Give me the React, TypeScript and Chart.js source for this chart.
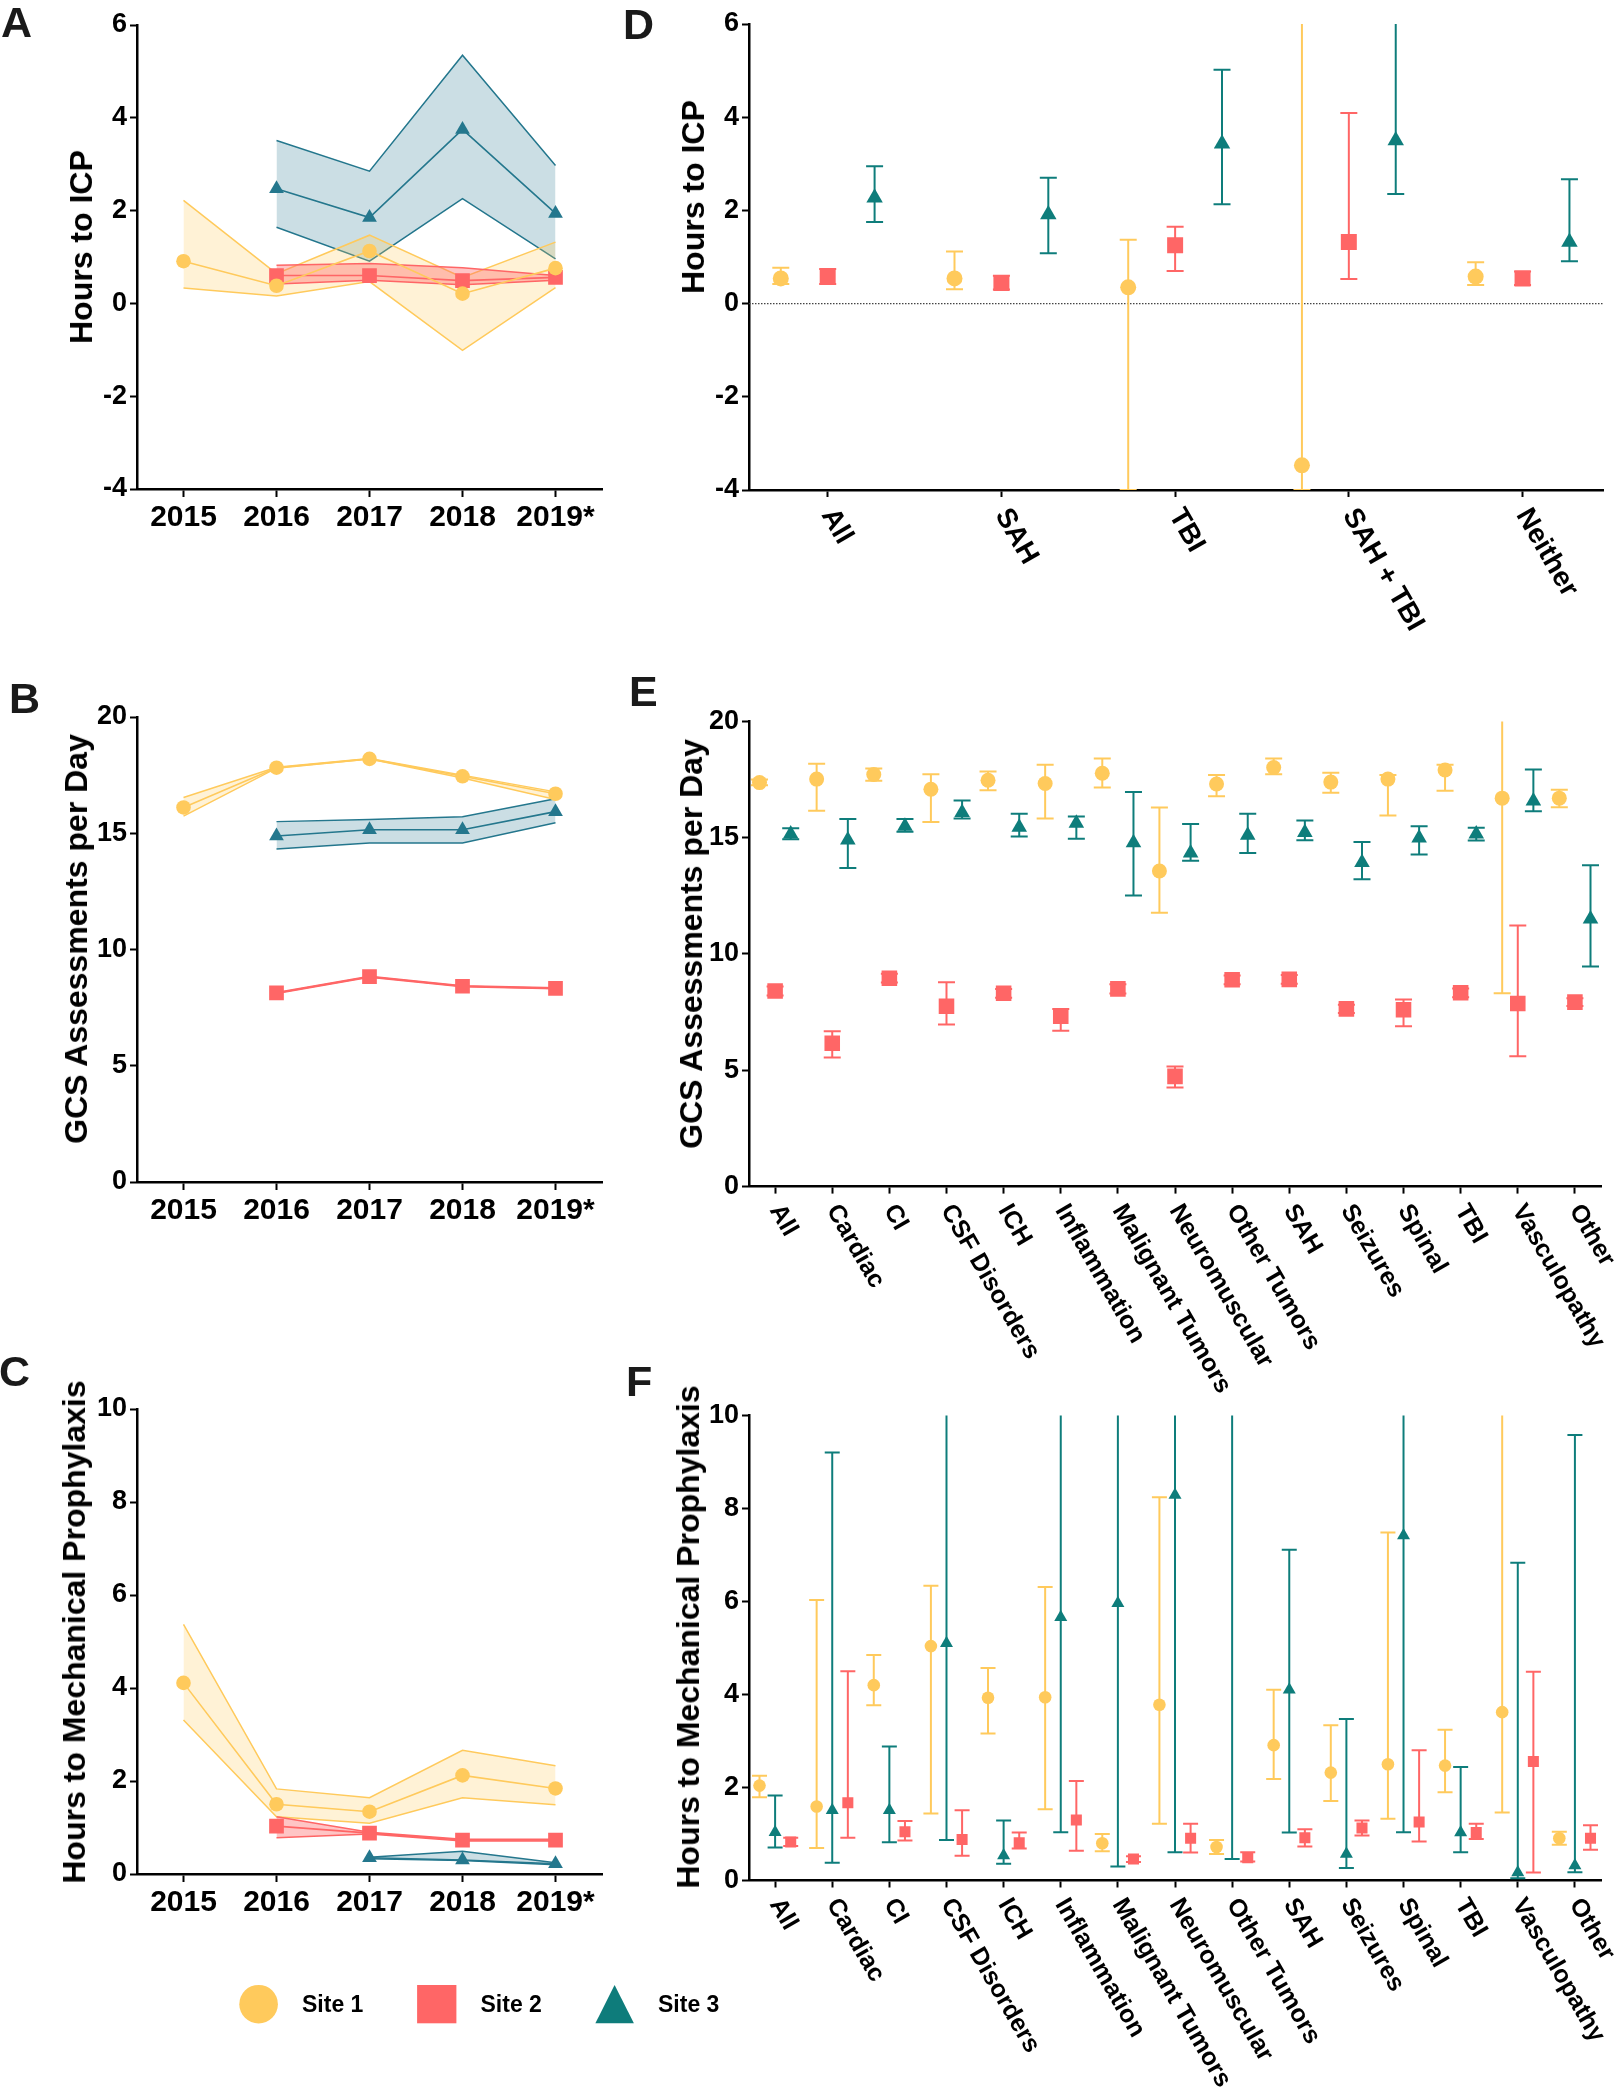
import React, { useEffect, useRef } from 'react';
import { Chart, registerables } from 'chart.js';

Chart.register(...registerables);

const FONT = '"Liberation Sans", Arial, Helvetica, sans-serif';
Chart.defaults.font.family = FONT;

// ---------- Panels A-C (by year) ----------
const years = ['2015', '2016', '2017', '2018', '2019*'];

// A: Hours to ICP
const icpYearSite1 = [0.91, 0.38, 1.13, 0.21, 0.76];
const icpYearSite1Hi = [2.22, 0.64, 1.47, 0.56, 1.32];
const icpYearSite1Lo = [0.33, 0.16, 0.47, -1.01, 0.34];
const icpYearSite2 = [null, 0.6, 0.6, 0.49, 0.56];
const icpYearSite2Hi = [null, 0.82, 0.86, 0.77, 0.6];
const icpYearSite2Lo = [null, 0.42, 0.5, 0.4, 0.5];
const icpYearSite3 = [null, 2.47, 1.85, 3.75, 1.94];
const icpYearSite3Hi = [null, 3.51, 2.85, 5.35, 2.97];
const icpYearSite3Lo = [null, 1.64, 0.91, 2.26, 0.96];

// B: GCS assessments per day
const gcsYearSite1 = [16.11, 17.82, 18.2, 17.45, 16.7];
const gcsYearSite1Hi = [16.54, 17.84, 18.21, 17.5, 16.78];
const gcsYearSite1Lo = [15.74, 17.8, 18.19, 17.38, 16.45];
const gcsYearSite2 = [null, 8.13, 8.83, 8.42, 8.33];
const gcsYearSite2Hi = [null, 8.15, 8.85, 8.44, 8.35];
const gcsYearSite2Lo = [null, 8.11, 8.81, 8.4, 8.31];
const gcsYearSite3 = [null, 14.88, 15.15, 15.15, 15.93];
const gcsYearSite3Hi = [null, 15.5, 15.59, 15.71, 16.48];
const gcsYearSite3Lo = [null, 14.32, 14.58, 14.58, 15.45];

// C: Hours to mechanical prophylaxis
const mpYearSite1 = [4.11, 1.5, 1.34, 2.12, 1.84];
const mpYearSite1Hi = [5.37, 1.83, 1.64, 2.66, 2.33];
const mpYearSite1Lo = [3.31, 1.23, 1.09, 1.64, 1.49];
const mpYearSite2 = [null, 1.03, 0.88, 0.73, 0.73];
const mpYearSite2Hi = [null, 1.23, 0.9, 0.75, 0.75];
const mpYearSite2Lo = [null, 0.78, 0.86, 0.71, 0.71];
const mpYearSite3 = [null, null, 0.35, 0.3, 0.22];
const mpYearSite3Hi = [null, null, 0.36, 0.49, 0.24];
const mpYearSite3Lo = [null, null, 0.33, 0.29, 0.2];

// ---------- Panel D (by diagnosis group) ----------
const icpCats = ['All', 'SAH', 'TBI', 'SAH + TBI', 'Neither'];
const icpCatSite1 = [0.54, 0.54, 0.35, -3.47, 0.58];
const icpCatSite1Hi = [0.77, 1.12, 1.37, 8, 0.89];
const icpCatSite1Lo = [0.42, 0.31, -4, -4, 0.4];
const icpCatSite2 = [0.58, 0.44, 1.25, 1.32, 0.54];
const icpCatSite2Hi = [0.74, 0.6, 1.65, 4.09, 0.69];
const icpCatSite2Lo = [0.42, 0.3, 0.7, 0.53, 0.4];
const icpCatSite3 = [2.27, 1.91, 3.43, 3.5, 1.32];
const icpCatSite3Hi = [2.95, 2.7, 5.02, 7, 2.67];
const icpCatSite3Lo = [1.75, 1.08, 2.13, 2.35, 0.91];

// ---------- Panels E & F (by diagnosis) ----------
const dxCats = ['All', 'Cardiac', 'CI', 'CSF Disorders', 'ICH', 'Inflammation', 'Malignant Tumors', 'Neuromuscular', 'Other Tumors', 'SAH', 'Seizures', 'Spinal', 'TBI', 'Vasculopathy', 'Other'];

const gcsDxSite1 = [17.37, 17.52, 17.72, 17.08, 17.47, 17.33, 17.77, 13.57, 17.31, 18.02, 17.39, 17.52, 17.91, 16.7, 16.7];
const gcsDxSite1Hi = [17.5, 18.18, 17.98, 17.73, 17.85, 18.14, 18.41, 16.3, 17.7, 18.41, 17.79, 17.7, 18.14, 21, 17.06];
const gcsDxSite1Lo = [17.25, 16.16, 17.45, 15.68, 17.04, 15.83, 17.16, 11.77, 16.78, 17.73, 16.93, 15.95, 17.02, 8.31, 16.31];
const gcsDxSite2 = [8.41, 6.16, 8.96, 7.75, 8.31, 7.33, 8.5, 4.74, 8.89, 8.91, 7.64, 7.6, 8.33, 7.87, 7.93];
const gcsDxSite2Hi = [8.6, 6.68, 9.15, 8.79, 8.5, 7.64, 8.7, 5.16, 9.08, 9.1, 7.82, 8.04, 8.52, 11.23, 8.1];
const gcsDxSite2Lo = [8.22, 5.55, 8.77, 6.97, 8.12, 6.7, 8.3, 4.26, 8.7, 8.72, 7.46, 6.89, 8.14, 5.6, 7.76];
const gcsDxSite3 = [15.16, 14.9, 15.49, 16.08, 15.45, 15.62, 14.78, 14.34, 15.11, 15.22, 13.93, 14.99, 15.16, 16.58, 11.5];
const gcsDxSite3Hi = [15.41, 15.8, 15.8, 16.6, 16.03, 15.91, 16.97, 15.59, 16.03, 15.74, 14.82, 15.49, 15.43, 17.93, 13.82];
const gcsDxSite3Lo = [14.93, 13.7, 15.26, 15.83, 15.05, 14.95, 12.51, 14.01, 14.34, 14.89, 13.21, 14.28, 14.88, 16.14, 9.46];

const mpDxSite1 = [2.04, 1.59, 4.2, 5.04, 3.93, 3.94, 0.8, 3.78, 0.72, 2.91, 2.32, 2.5, 2.47, 3.62, 0.91];
const mpDxSite1Hi = [2.25, 6.03, 4.85, 6.34, 4.57, 6.31, 1.0, 8.24, 0.87, 4.1, 3.34, 7.48, 3.24, 11, 1.05];
const mpDxSite1Lo = [1.79, 0.7, 3.77, 1.44, 3.16, 1.53, 0.63, 1.22, 0.57, 2.18, 1.71, 1.33, 1.9, 1.46, 0.77];
const mpDxSite2 = [0.83, 1.67, 1.05, 0.88, 0.81, 1.3, 0.46, 0.91, 0.49, 0.92, 1.13, 1.26, 1.03, 2.56, 0.91];
const mpDxSite2Hi = [0.92, 4.5, 1.28, 1.51, 1.03, 2.14, 0.52, 1.22, 0.61, 1.1, 1.29, 2.8, 1.22, 4.49, 1.19];
const mpDxSite2Lo = [0.74, 0.92, 0.86, 0.53, 0.69, 0.64, 0.4, 0.6, 0.41, 0.73, 0.97, 0.84, 0.89, 0.17, 0.66];
const mpDxSite3 = [1.04, 1.51, 1.51, 5.1, 0.54, 5.66, 5.96, 8.29, 11, 4.1, 0.57, 7.42, 1.03, 0.17, 0.32];
const mpDxSite3Hi = [1.83, 9.2, 2.88, 11, 1.29, 11, 11, 11, 20, 7.11, 3.47, 11, 2.44, 6.83, 9.58];
const mpDxSite3Lo = [0.71, 0.38, 0.82, 0.87, 0.36, 1.04, 0.3, 0.61, 0.46, 1.03, 0.27, 1.04, 0.61, 0.05, 0.18];

const siteNames = ['Site 1', 'Site 2', 'Site 3'];

// ---------- styles ----------
const YELLOW = '#FFCA5C';
const RED = '#FF6666';
const TEAL_L = '#24778D';
const TEAL_R = '#0E7D7B';
const YELLOW_FILL = 'rgba(255, 202, 92, 0.25)';
const RED_FILL = 'rgba(255, 102, 102, 0.38)';
const TEAL_FILL = 'rgba(36, 119, 141, 0.24)';

type Rect = { x: number; y: number; w: number; h: number };
type Area = { l: number; t: number; r: number; b: number };

function layoutFor(rect: Rect, area: Area, xH: number) {
  return {
    yW: area.l - rect.x,
    padding: {
      left: 0,
      top: area.t - rect.y,
      right: rect.x + rect.w - area.r,
      bottom: rect.y + rect.h - area.b - xH,
    },
  };
}

const axisLook = (tickLen: number) => ({
  grid: { display: true, drawOnChartArea: false, drawTicks: true, tickLength: tickLen, tickWidth: 2, tickColor: '#000', offset: false },
  border: { display: true, color: '#000', width: 2.5 },
});

type TrendSeries = {
  name: string; mean: (number | null)[]; hi: (number | null)[]; lo: (number | null)[];
  color: string; fill: string; style: string; radius: number; order: number; bandOrder: number;
};

function trendConfig(series: TrendSeries[], yMin: number, yMax: number, step: number, rect: Rect, area: Area) {
  const xH = 45;
  const L = layoutFor(rect, area, xH);
  const datasets: any[] = [];
  series.forEach((s) => {
    datasets.push({ label: s.name + ' upper', data: s.hi, borderColor: s.color, borderWidth: 1.5, backgroundColor: s.fill, fill: '+1', pointRadius: 0, pointHoverRadius: 0, order: s.bandOrder });
    datasets.push({ label: s.name + ' lower', data: s.lo, borderColor: s.color, borderWidth: 1.5, fill: false, pointRadius: 0, pointHoverRadius: 0, order: s.bandOrder });
    datasets.push({ label: s.name, data: s.mean, borderColor: s.color, borderWidth: 1.6, fill: false, pointStyle: s.style, pointRadius: s.radius, pointBackgroundColor: s.color, pointBorderColor: s.color, pointBorderWidth: 0, order: s.order });
  });
  return {
    type: 'line',
    data: { labels: years, datasets },
    options: {
      animation: false, responsive: false, devicePixelRatio: 1, events: [],
      layout: { padding: L.padding },
      plugins: { legend: { display: false }, tooltip: { enabled: false } },
      scales: {
        x: {
          type: 'category', offset: true, ...axisLook(8),
          ticks: { font: { size: 30, weight: 'bold' }, color: '#000', padding: 3, maxRotation: 0, minRotation: 0, autoSkip: false },
          afterFit: (s: any) => { s.height = xH; },
        },
        y: {
          type: 'linear', min: yMin, max: yMax, ...axisLook(7),
          ticks: { stepSize: step, font: { size: 27, weight: 'bold' }, color: '#000', padding: 3 },
          afterFit: (s: any) => { s.width = L.yW; },
        },
      },
    },
  };
}

function rotatedLabels(labels: string[], size: number, offset: number) {
  return {
    id: 'rotatedLabels',
    afterDraw(chart: any) {
      const xs = chart.scales.x;
      const ctx = chart.ctx;
      ctx.save();
      ctx.font = `bold ${size}px ${FONT}`;
      ctx.fillStyle = '#000';
      ctx.textAlign = 'left';
      ctx.textBaseline = 'middle';
      labels.forEach((t, i) => {
        ctx.save();
        ctx.translate(xs.getPixelForValue(i), xs.top + offset);
        ctx.rotate(Math.PI / 3);
        ctx.fillText(t, 0, 0);
        ctx.restore();
      });
      ctx.restore();
    },
  };
}

type ErrSeries = {
  name: string; mean: number[]; hi: number[]; lo: number[]; off: number;
  color: string; style: string; radius: number; order: number;
};

function errorConfig(o: {
  cats: string[]; xMin: number; xMax: number; yMin: number; yMax: number; step: number;
  series: ErrSeries[]; capR: number; labelSize: number; labelOffset: number;
  rect: Rect; area: Area; zeroLine?: boolean;
}) {
  const xH = 200;
  const L = layoutFor(o.rect, o.area, xH);
  const datasets: any[] = [];
  if (o.zeroLine) {
    datasets.push({ label: 'zero', data: [{ x: o.xMin, y: 0 }, { x: o.xMax, y: 0 }], borderColor: '#444', borderWidth: 1.3, borderDash: [1.5, 1.5], pointRadius: 0, pointHoverRadius: 0, fill: false, order: 50 });
  }
  o.series.forEach((s, k) => {
    const pts: any[] = [];
    s.lo.forEach((lo, i) => {
      pts.push({ x: i + s.off, y: lo }, { x: i + s.off, y: s.hi[i] }, { x: i + s.off, y: null });
    });
    datasets.push({ label: s.name + ' range', data: pts, borderColor: s.color, borderWidth: 2, fill: false, spanGaps: false, pointStyle: 'line', pointRadius: o.capR, pointHoverRadius: o.capR, pointBorderColor: s.color, pointBackgroundColor: s.color, pointBorderWidth: 2, order: 20 + k });
    datasets.push({ label: s.name, data: s.mean.map((m, i) => ({ x: i + s.off, y: m })), showLine: false, fill: false, pointStyle: s.style, pointRadius: s.radius, pointHoverRadius: s.radius, pointBackgroundColor: s.color, pointBorderColor: s.color, pointBorderWidth: 0, order: s.order });
  });
  return {
    type: 'line',
    data: { datasets },
    plugins: [rotatedLabels(o.cats, o.labelSize, o.labelOffset)],
    options: {
      animation: false, responsive: false, devicePixelRatio: 1, events: [],
      layout: { padding: L.padding },
      plugins: { legend: { display: false }, tooltip: { enabled: false } },
      scales: {
        x: {
          type: 'linear', min: o.xMin, max: o.xMax, ...axisLook(7),
          ticks: { display: false, stepSize: 1, includeBounds: false },
          afterBuildTicks: (s: any) => { s.ticks = o.cats.map((_, i) => ({ value: i })); },
          afterFit: (s: any) => { s.height = xH; },
        },
        y: {
          type: 'linear', min: o.yMin, max: o.yMax, ...axisLook(7),
          ticks: { stepSize: o.step, font: { size: 27, weight: 'bold' }, color: '#000', padding: 3 },
          afterFit: (s: any) => { s.width = L.yW; },
        },
      },
    },
  };
}

// ---------- panel geometry (page pixels) ----------
const rectA: Rect = { x: 0, y: 0, w: 620, h: 560 };
const areaA: Area = { l: 137, t: 25, r: 602, b: 489 };
const rectB: Rect = { x: 0, y: 640, w: 620, h: 600 };
const areaB: Area = { l: 137, t: 717, r: 602, b: 1182 };
const rectC: Rect = { x: 0, y: 1330, w: 620, h: 600 };
const areaC: Area = { l: 137, t: 1409, r: 602, b: 1874 };
const rectD: Rect = { x: 620, y: 0, w: 996, h: 680 };
const areaD: Area = { l: 749, t: 24, r: 1603.5, b: 490 };
const rectE: Rect = { x: 620, y: 680, w: 996, h: 740 };
const areaE: Area = { l: 749, t: 721.4, r: 1601.7, b: 1186.6 };
const rectF: Rect = { x: 620, y: 1380, w: 996, h: 720 };
const areaF: Area = { l: 749, t: 1415.4, r: 1601.7, b: 1880.5 };

const trendSeries = (m1: any[], h1: any[], l1: any[], m2: any[], h2: any[], l2: any[], m3: any[], h3: any[], l3: any[]): TrendSeries[] => [
  { name: siteNames[2], mean: m3, hi: h3, lo: l3, color: TEAL_L, fill: TEAL_FILL, style: 'triangle', radius: 8.5, order: 3, bandOrder: 30 },
  { name: siteNames[0], mean: m1, hi: h1, lo: l1, color: YELLOW, fill: YELLOW_FILL, style: 'circle', radius: 7.3, order: 1, bandOrder: 20 },
  { name: siteNames[1], mean: m2, hi: h2, lo: l2, color: RED, fill: RED_FILL, style: 'rect', radius: 10.4, order: 2, bandOrder: 10 },
];

const configA = () => trendConfig(trendSeries(icpYearSite1, icpYearSite1Hi, icpYearSite1Lo, icpYearSite2, icpYearSite2Hi, icpYearSite2Lo, icpYearSite3, icpYearSite3Hi, icpYearSite3Lo), -4, 6, 2, rectA, areaA);
const configB = () => trendConfig(trendSeries(gcsYearSite1, gcsYearSite1Hi, gcsYearSite1Lo, gcsYearSite2, gcsYearSite2Hi, gcsYearSite2Lo, gcsYearSite3, gcsYearSite3Hi, gcsYearSite3Lo), 0, 20, 5, rectB, areaB);
const configC = () => trendConfig(trendSeries(mpYearSite1, mpYearSite1Hi, mpYearSite1Lo, mpYearSite2, mpYearSite2Hi, mpYearSite2Lo, mpYearSite3, mpYearSite3Hi, mpYearSite3Lo), 0, 10, 2, rectC, areaC);

const configD = () => errorConfig({
  cats: icpCats, xMin: -0.453, xMax: 4.466, yMin: -4, yMax: 6, step: 2, capR: 8.5, labelSize: 28, labelOffset: 21,
  rect: rectD, area: areaD, zeroLine: true,
  series: [
    { name: siteNames[0], mean: icpCatSite1, hi: icpCatSite1Hi, lo: icpCatSite1Lo, off: -0.27, color: YELLOW, style: 'circle', radius: 8, order: 1 },
    { name: siteNames[1], mean: icpCatSite2, hi: icpCatSite2Hi, lo: icpCatSite2Lo, off: 0, color: RED, style: 'rect', radius: 11.3, order: 2 },
    { name: siteNames[2], mean: icpCatSite3, hi: icpCatSite3Hi, lo: icpCatSite3Lo, off: 0.27, color: TEAL_R, style: 'triangle', radius: 9.5, order: 3 },
  ],
});

const configE = () => errorConfig({
  cats: dxCats, xMin: -0.457, xMax: 14.469, yMin: 0, yMax: 20, step: 5, capR: 8.5, labelSize: 25, labelOffset: 20,
  rect: rectE, area: areaE,
  series: [
    { name: siteNames[0], mean: gcsDxSite1, hi: gcsDxSite1Hi, lo: gcsDxSite1Lo, off: -0.273, color: YELLOW, style: 'circle', radius: 7.5, order: 1 },
    { name: siteNames[1], mean: gcsDxSite2, hi: gcsDxSite2Hi, lo: gcsDxSite2Lo, off: 0, color: RED, style: 'rect', radius: 11, order: 2 },
    { name: siteNames[2], mean: gcsDxSite3, hi: gcsDxSite3Hi, lo: gcsDxSite3Lo, off: 0.273, color: TEAL_R, style: 'triangle', radius: 9, order: 3 },
  ],
});

const configF = () => errorConfig({
  cats: dxCats, xMin: -0.457, xMax: 14.469, yMin: 0, yMax: 10, step: 2, capR: 7.5, labelSize: 25, labelOffset: 20,
  rect: rectF, area: areaF,
  series: [
    { name: siteNames[0], mean: mpDxSite1, hi: mpDxSite1Hi, lo: mpDxSite1Lo, off: -0.273, color: YELLOW, style: 'circle', radius: 6.3, order: 1 },
    { name: siteNames[2], mean: mpDxSite3, hi: mpDxSite3Hi, lo: mpDxSite3Lo, off: 0, color: TEAL_R, style: 'triangle', radius: 7.5, order: 3 },
    { name: siteNames[1], mean: mpDxSite2, hi: mpDxSite2Hi, lo: mpDxSite2Lo, off: 0.273, color: RED, style: 'rect', radius: 7.8, order: 2 },
  ],
});

function ChartCanvas({ rect, config }: { rect: Rect; config: () => any }) {
  const ref = useRef<HTMLCanvasElement>(null);
  useEffect(() => {
    const chart = new Chart(ref.current as HTMLCanvasElement, config());
    return () => chart.destroy();
  }, []);
  return (
    <canvas
      ref={ref}
      width={rect.w}
      height={rect.h}
      style={{ position: 'absolute', left: rect.x, top: rect.y, width: rect.w, height: rect.h }}
    />
  );
}

function Letter({ text, x, y }: { text: string; x: number; y: number }) {
  return (
    <div style={{ position: 'absolute', left: x, top: y, font: `bold 43px ${FONT}`, lineHeight: 1, color: '#1a1a1a' }}>{text}</div>
  );
}

function VTitle({ text, x, y }: { text: string; x: number; y: number }) {
  return (
    <div
      style={{
        position: 'absolute', left: x, top: y, transform: 'translate(-50%, -50%) rotate(-90deg)',
        font: `bold 32px ${FONT}`, lineHeight: 1, whiteSpace: 'nowrap', color: '#000',
      }}
    >
      {text}
    </div>
  );
}

export default function App() {
  return (
    <div style={{ position: 'absolute', left: 0, top: 0, width: 1616, height: 2100, overflow: 'hidden', background: '#fff' }}>
      <ChartCanvas rect={rectA} config={configA} />
      <ChartCanvas rect={rectB} config={configB} />
      <ChartCanvas rect={rectC} config={configC} />
      <ChartCanvas rect={rectD} config={configD} />
      <ChartCanvas rect={rectE} config={configE} />
      <ChartCanvas rect={rectF} config={configF} />

      <Letter text="A" x={1} y={1} />
      <Letter text="B" x={9} y={677} />
      <Letter text="C" x={-1} y={1350} />
      <Letter text="D" x={623} y={3} />
      <Letter text="E" x={629} y={670} />
      <Letter text="F" x={626} y={1360} />

      <VTitle text="Hours to ICP" x={81} y={247} />
      <VTitle text="GCS Assessments per Day" x={76} y={939} />
      <VTitle text="Hours to Mechanical Prophylaxis" x={74} y={1632} />
      <VTitle text="Hours to ICP" x={693} y={197} />
      <VTitle text="GCS Assessments per Day" x={691} y={944} />
      <VTitle text="Hours to Mechanical Prophylaxis" x={688} y={1637} />

      <svg style={{ position: 'absolute', left: 0, top: 1960 }} width={800} height={100}>
        <circle cx={258.6} cy={44.2} r={19.3} fill={YELLOW} />
        <text x={302} y={52.2} style={{ font: `bold 23px ${FONT}` }} fill="#000">{siteNames[0]}</text>
        <rect x={417.1} y={25} width={39.3} height={38.3} fill={RED} />
        <text x={480.5} y={52.2} style={{ font: `bold 23px ${FONT}` }} fill="#000">{siteNames[1]}</text>
        <polygon points="614.6,25 595.4,63.3 633.9,63.3" fill="#0E7C7B" />
        <text x={658} y={52.2} style={{ font: `bold 23px ${FONT}` }} fill="#000">{siteNames[2]}</text>
      </svg>
    </div>
  );
}
